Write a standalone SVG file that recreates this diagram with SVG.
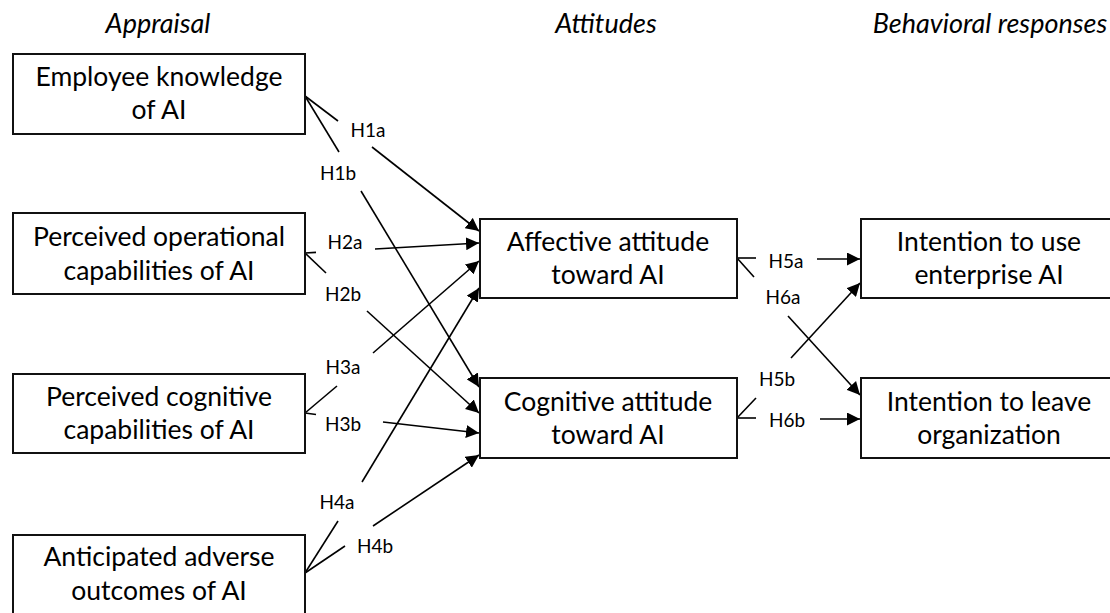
<svg xmlns="http://www.w3.org/2000/svg" width="1110" height="613" viewBox="0 0 1110 613">
<style>
.box{fill:#fff;stroke:#111;stroke-width:2}
.t{font-family:Lato,"Liberation Sans",sans-serif;font-size:26.5px;fill:#000;text-anchor:middle}
.h{font-family:Lato,"Liberation Sans",sans-serif;font-size:27px;font-style:italic;fill:#000;text-anchor:middle}
.l{font-family:Lato,"Liberation Sans",sans-serif;font-size:19px;fill:#000;text-anchor:middle}
.c{stroke:#000;stroke-width:1.6;fill:none}
.a{marker-end:url(#arr)}
</style>
<defs>
<marker id="arr" markerUnits="userSpaceOnUse" markerWidth="14" markerHeight="13" refX="13" refY="6.5" orient="auto">
<path d="M0,0 L13,6.5 L0,13 z" fill="#000"/>
</marker>
</defs>
<rect width="1110" height="613" fill="#fff"/>
<g id="headers">
<text class="h" x="158" y="33">Appraisal</text>
<text class="h" x="606" y="33">Attitudes</text>
<text class="h" x="990" y="33">Behavioral responses</text>
</g>
<g id="connectors">
<line class="c" x1="305" y1="96" x2="338" y2="121"/>
<line class="c a" x1="372" y1="147" x2="479" y2="231"/>
<line class="c" x1="305" y1="96" x2="339" y2="152"/>
<line class="c a" x1="361" y1="191" x2="479" y2="387"/>
<line class="c" x1="305" y1="253" x2="316" y2="252.4"/>
<line class="c a" x1="375" y1="249" x2="479" y2="243"/>
<line class="c" x1="305" y1="253" x2="326" y2="273"/>
<line class="c a" x1="367" y1="311" x2="479" y2="413"/>
<line class="c" x1="305" y1="413" x2="337" y2="386"/>
<line class="c a" x1="373" y1="353" x2="479" y2="261"/>
<line class="c" x1="305" y1="413" x2="316" y2="414.5"/>
<line class="c a" x1="383" y1="422" x2="479" y2="433"/>
<line class="c" x1="305" y1="573" x2="338" y2="521"/>
<line class="c a" x1="362" y1="482" x2="479" y2="288"/>
<line class="c" x1="305" y1="573" x2="345" y2="546"/>
<line class="c a" x1="373" y1="526" x2="479" y2="455"/>
<line class="c" x1="737" y1="258" x2="756" y2="258"/>
<line class="c a" x1="817" y1="259" x2="860" y2="259"/>
<line class="c" x1="737" y1="258" x2="754" y2="277"/>
<line class="c a" x1="788" y1="316" x2="860" y2="395"/>
<line class="c" x1="737" y1="418" x2="756" y2="398"/>
<line class="c a" x1="791" y1="358" x2="860" y2="283"/>
<line class="c" x1="737" y1="418" x2="756" y2="418"/>
<line class="c a" x1="820" y1="419" x2="860" y2="419"/>
</g>
<g id="labels">
<text class="l" x="368" y="137">H1a</text>
<text class="l" x="338" y="180">H1b</text>
<text class="l" x="345" y="249">H2a</text>
<text class="l" x="343" y="301">H2b</text>
<text class="l" x="343" y="374">H3a</text>
<text class="l" x="343" y="431">H3b</text>
<text class="l" x="337" y="509">H4a</text>
<text class="l" x="375" y="553">H4b</text>
<text class="l" x="786" y="268">H5a</text>
<text class="l" x="783" y="304">H6a</text>
<text class="l" x="777" y="386">H5b</text>
<text class="l" x="787" y="427">H6b</text>
</g>
<g id="n-knowledge">
<rect class="box" x="13" y="54" width="292" height="80"/>
<text class="t" x="159" y="86">Employee knowledge</text>
<text class="t" x="159" y="119">of AI</text>
</g>
<g id="n-operational">
<rect class="box" x="13" y="213" width="292" height="81"/>
<text class="t" x="159" y="246">Perceived operational</text>
<text class="t" x="159" y="280">capabilities of AI</text>
</g>
<g id="n-cognitive-cap">
<rect class="box" x="13" y="374" width="292" height="79"/>
<text class="t" x="159" y="406">Perceived cognitive</text>
<text class="t" x="159" y="439">capabilities of AI</text>
</g>
<g id="n-adverse">
<rect class="box" x="13" y="535" width="292" height="82"/>
<text class="t" x="159" y="566">Anticipated adverse</text>
<text class="t" x="159" y="600">outcomes of AI</text>
</g>
<g id="n-affective">
<rect class="box" x="480" y="219" width="257" height="79"/>
<text class="t" x="608" y="251">Affective attitude</text>
<text class="t" x="608" y="284">toward AI</text>
</g>
<g id="n-cognitive-att">
<rect class="box" x="480" y="378" width="257" height="80"/>
<text class="t" x="608" y="411">Cognitive attitude</text>
<text class="t" x="608" y="444">toward AI</text>
</g>
<g id="n-use">
<rect class="box" x="861" y="219" width="256" height="79"/>
<text class="t" x="989" y="251">Intention to use</text>
<text class="t" x="989" y="284">enterprise AI</text>
</g>
<g id="n-leave">
<rect class="box" x="861" y="378" width="256" height="80"/>
<text class="t" x="989" y="411">Intention to leave</text>
<text class="t" x="989" y="444">organization</text>
</g>
</svg>
